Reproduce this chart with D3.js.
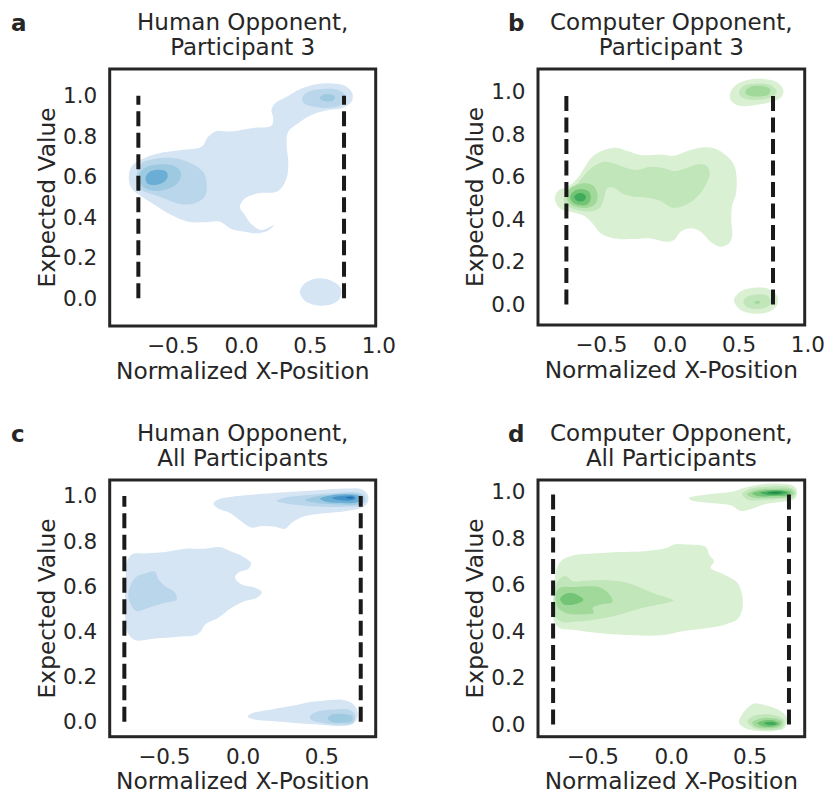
<!DOCTYPE html>
<html>
<head>
<meta charset="utf-8">
<script src="https://cdn.jsdelivr.net/npm/d3@7"></script>
<style>
  html, body { margin: 0; padding: 0; background: #ffffff; }
  svg { display: block; }
  text { font-family: "DejaVu Sans", sans-serif; fill: #262626; }
</style>
</head>
<body>
<svg id="chart" width="824" height="793"></svg>
<script>
// ---------------- DATA ----------------
const xTicksTop = [-0.5, 0.0, 0.5, 1.0];
const xTicksBottom = [-0.5, 0.0, 0.5];
const yTicks = [0.0, 0.2, 0.4, 0.6, 0.8, 1.0];

const boundaryX = [-0.75, 0.75];   // dashed reference lines
const boundaryY = [0, 1];

const domainA = { x: [-0.959, 0.981], y: [-0.137, 1.132] };
const domainB = { x: [-0.956, 0.980], y: [-0.097, 1.107] };
const domainC = { x: [-0.843, 0.845], y: [-0.066, 1.071] };
const domainD = { x: [-0.846, 0.850], y: [-0.052, 1.052] };

const titleA = ["Human Opponent,", "Participant 3"];
const titleB = ["Computer Opponent,", "Participant 3"];
const titleC = ["Human Opponent,", "All Participants"];
const titleD = ["Computer Opponent,", "All Participants"];

const blues  = ["#d5e5f4", "#bad6eb", "#9ecae1", "#6aaed6", "#4292c6", "#2171b5"];
const greens = ["#d9f0d3", "#c0e6b9", "#a1d99b", "#74c476", "#41ab5d", "#238b45"];

// KDE contour regions (level index, outline in data coordinates)
const contoursA = [
  { level: 0, pts: [[-0.820,0.595],[-0.800,0.650],[-0.727,0.686],[-0.606,0.715],[-0.436,0.732],[-0.290,0.748],[-0.241,0.798],[-0.180,0.826],[-0.083,0.823],[0.002,0.831],[0.100,0.842],[0.221,0.852],[0.234,0.888],[0.221,0.929],[0.246,0.962],[0.331,0.995],[0.440,1.036],[0.538,1.056],[0.659,1.061],[0.757,1.049],[0.810,1.012],[0.805,0.970],[0.745,0.941],[0.635,0.929],[0.513,0.905],[0.416,0.864],[0.343,0.822],[0.331,0.757],[0.343,0.674],[0.331,0.592],[0.270,0.530],[0.124,0.518],[0.027,0.493],[-0.010,0.452],[0.027,0.411],[0.075,0.365],[0.148,0.337],[0.241,0.362],[0.197,0.334],[0.124,0.321],[0.027,0.329],[-0.071,0.342],[-0.156,0.378],[-0.265,0.375],[-0.387,0.378],[-0.509,0.411],[-0.630,0.461],[-0.727,0.502],[-0.800,0.543]] },
  { level: 0, pts: [[0.428,0.033],[0.465,0.074],[0.562,0.099],[0.659,0.086],[0.727,0.049],[0.720,0.000],[0.659,-0.030],[0.562,-0.036],[0.465,-0.013]] },
  { level: 1, pts: [[-0.764,0.609],[-0.727,0.666],[-0.630,0.688],[-0.484,0.691],[-0.363,0.666],[-0.277,0.625],[-0.253,0.576],[-0.265,0.502],[-0.338,0.469],[-0.436,0.464],[-0.533,0.485],[-0.630,0.510],[-0.727,0.535],[-0.764,0.567]] },
  { level: 1, pts: [[0.445,0.987],[0.477,1.015],[0.586,1.033],[0.708,1.028],[0.762,1.000],[0.745,0.962],[0.659,0.941],[0.538,0.946],[0.460,0.962]] },
  { level: 2, pts: [[-0.752,0.600],[-0.703,0.645],[-0.606,0.661],[-0.496,0.655],[-0.440,0.622],[-0.455,0.576],[-0.521,0.543],[-0.630,0.530],[-0.715,0.551]] },
  { level: 2, pts: [[0.572,0.990],[0.599,1.005],[0.647,1.007],[0.684,0.995],[0.672,0.977],[0.623,0.972],[0.586,0.979]] },
  { level: 3, pts: [[-0.698,0.595],[-0.667,0.625],[-0.594,0.635],[-0.545,0.625],[-0.538,0.595],[-0.569,0.572],[-0.630,0.559],[-0.684,0.567]] }
];

const contoursB = [
  { level: 0, pts: [[-0.835,0.498],[-0.803,0.538],[-0.743,0.553],[-0.670,0.593],[-0.622,0.640],[-0.561,0.695],[-0.477,0.726],[-0.392,0.737],[-0.307,0.721],[-0.211,0.702],[-0.066,0.705],[0.031,0.699],[0.128,0.721],[0.225,0.737],[0.321,0.734],[0.406,0.702],[0.467,0.655],[0.486,0.593],[0.479,0.514],[0.454,0.467],[0.447,0.389],[0.454,0.326],[0.430,0.286],[0.370,0.271],[0.297,0.295],[0.225,0.342],[0.152,0.358],[0.080,0.342],[0.031,0.303],[-0.029,0.295],[-0.138,0.310],[-0.259,0.307],[-0.404,0.310],[-0.501,0.334],[-0.561,0.381],[-0.622,0.417],[-0.707,0.433],[-0.791,0.448]] },
  { level: 0, pts: [[0.438,0.993],[0.479,1.031],[0.563,1.055],[0.684,1.060],[0.781,1.044],[0.825,1.008],[0.806,0.972],[0.721,0.950],[0.612,0.937],[0.503,0.934],[0.447,0.956]] },
  { level: 0, pts: [[0.467,0.020],[0.515,0.060],[0.612,0.078],[0.709,0.075],[0.776,0.044],[0.781,-0.003],[0.721,-0.035],[0.612,-0.044],[0.515,-0.027]] },
  { level: 1, pts: [[-0.767,0.506],[-0.743,0.538],[-0.670,0.569],[-0.598,0.624],[-0.537,0.655],[-0.477,0.671],[-0.404,0.663],[-0.307,0.640],[-0.235,0.632],[-0.138,0.647],[-0.041,0.640],[0.031,0.627],[0.104,0.637],[0.200,0.658],[0.261,0.655],[0.290,0.624],[0.273,0.577],[0.200,0.506],[0.104,0.464],[0.019,0.455],[-0.066,0.486],[-0.162,0.502],[-0.259,0.506],[-0.344,0.522],[-0.404,0.549],[-0.453,0.546],[-0.477,0.498],[-0.501,0.459],[-0.549,0.440],[-0.646,0.440],[-0.719,0.454],[-0.762,0.475]] },
  { level: 1, pts: [[0.503,1.000],[0.539,1.028],[0.636,1.039],[0.733,1.031],[0.777,1.003],[0.745,0.976],[0.660,0.963],[0.563,0.965],[0.515,0.979]] },
  { level: 1, pts: [[0.534,0.012],[0.563,0.036],[0.636,0.047],[0.709,0.041],[0.737,0.012],[0.709,-0.011],[0.636,-0.022],[0.563,-0.014]] },
  { level: 2, pts: [[-0.747,0.522],[-0.706,0.553],[-0.634,0.569],[-0.561,0.561],[-0.525,0.522],[-0.537,0.475],[-0.598,0.455],[-0.682,0.459],[-0.735,0.483]] },
  { level: 2, pts: [[0.551,1.003],[0.587,1.024],[0.672,1.027],[0.728,1.013],[0.721,0.988],[0.660,0.978],[0.587,0.980],[0.556,0.989]] },
  { level: 2, pts: [[0.612,0.009],[0.636,0.017],[0.660,0.009],[0.636,0.003]] },
  { level: 3, pts: [[-0.723,0.506],[-0.694,0.533],[-0.634,0.542],[-0.585,0.530],[-0.573,0.498],[-0.598,0.470],[-0.658,0.467],[-0.706,0.480]] },
  { level: 4, pts: [[-0.694,0.505],[-0.665,0.522],[-0.626,0.520],[-0.607,0.505],[-0.626,0.486],[-0.670,0.486]] }
];

const contoursC = [
  { level: 0, pts: [[-0.185,0.967],[-0.153,0.985],[-0.069,0.997],[0.079,1.007],[0.291,1.018],[0.502,1.027],[0.650,1.033],[0.756,1.030],[0.794,1.007],[0.794,0.970],[0.756,0.948],[0.650,0.933],[0.502,0.923],[0.397,0.911],[0.312,0.882],[0.270,0.855],[0.206,0.864],[0.122,0.867],[0.058,0.860],[-0.026,0.897],[-0.090,0.929],[-0.153,0.944]] },
  { level: 0, pts: [[-0.735,0.705],[-0.703,0.741],[-0.619,0.746],[-0.492,0.752],[-0.365,0.767],[-0.238,0.767],[-0.143,0.774],[-0.079,0.756],[-0.005,0.734],[0.054,0.702],[0.037,0.678],[-0.026,0.661],[-0.048,0.639],[-0.005,0.608],[0.079,0.594],[0.122,0.575],[0.090,0.549],[0.016,0.535],[-0.069,0.505],[-0.153,0.461],[-0.238,0.431],[-0.263,0.402],[-0.301,0.383],[-0.407,0.377],[-0.555,0.369],[-0.682,0.362],[-0.729,0.394],[-0.746,0.498],[-0.741,0.616]] },
  { level: 0, pts: [[0.033,0.025],[0.069,0.040],[0.185,0.055],[0.333,0.073],[0.418,0.087],[0.502,0.092],[0.650,0.096],[0.714,0.070],[0.731,0.025],[0.703,-0.007],[0.629,-0.019],[0.481,-0.012],[0.312,-0.004],[0.185,0.003],[0.058,0.013]] },
  { level: 1, pts: [[0.217,0.978],[0.270,0.993],[0.397,1.003],[0.566,1.012],[0.693,1.018],[0.767,1.007],[0.781,0.978],[0.746,0.958],[0.650,0.952],[0.502,0.952],[0.375,0.958],[0.270,0.968]] },
  { level: 1, pts: [[-0.720,0.586],[-0.682,0.638],[-0.619,0.657],[-0.555,0.665],[-0.534,0.631],[-0.492,0.601],[-0.428,0.572],[-0.418,0.542],[-0.492,0.527],[-0.597,0.505],[-0.672,0.490],[-0.703,0.512],[-0.724,0.549]] },
  { level: 1, pts: [[0.428,0.025],[0.481,0.047],[0.587,0.055],[0.682,0.052],[0.714,0.028],[0.703,-0.004],[0.608,-0.012],[0.502,-0.004],[0.439,0.008]] },
  { level: 2, pts: [[0.397,0.982],[0.460,0.997],[0.587,1.007],[0.703,1.011],[0.760,1.000],[0.767,0.978],[0.724,0.963],[0.608,0.963],[0.481,0.968]] },
  { level: 2, pts: [[0.540,0.013],[0.566,0.031],[0.640,0.035],[0.697,0.025],[0.693,0.003],[0.629,-0.004],[0.566,-0.001]] },
  { level: 3, pts: [[0.492,0.988],[0.566,1.003],[0.672,1.007],[0.739,1.000],[0.752,0.982],[0.714,0.970],[0.608,0.970],[0.523,0.976]] },
  { level: 4, pts: [[0.566,0.991],[0.629,1.000],[0.703,1.000],[0.718,0.989],[0.693,0.981],[0.619,0.981]] },
  { level: 5, pts: [[0.655,0.994],[0.693,0.997],[0.709,0.991],[0.682,0.988]] }
];

const contoursD = [
  { level: 0, pts: [[-0.744,0.553],[-0.733,0.653],[-0.701,0.703],[-0.617,0.728],[-0.490,0.736],[-0.341,0.742],[-0.172,0.746],[-0.023,0.761],[0.019,0.775],[0.104,0.775],[0.220,0.765],[0.242,0.732],[0.273,0.703],[0.252,0.675],[0.337,0.646],[0.422,0.610],[0.453,0.553],[0.453,0.496],[0.422,0.453],[0.348,0.431],[0.252,0.417],[0.083,0.403],[-0.066,0.384],[-0.235,0.384],[-0.447,0.393],[-0.617,0.407],[-0.712,0.417],[-0.748,0.453]] },
  { level: 0, pts: [[0.114,0.975],[0.231,0.990],[0.379,1.000],[0.464,1.018],[0.570,1.033],[0.697,1.036],[0.782,1.026],[0.803,0.997],[0.782,0.969],[0.697,0.957],[0.591,0.947],[0.506,0.926],[0.443,0.919],[0.379,0.943],[0.231,0.954],[0.125,0.966]] },
  { level: 0, pts: [[0.432,0.009],[0.453,0.045],[0.496,0.078],[0.528,0.091],[0.612,0.081],[0.697,0.059],[0.735,0.030],[0.723,-0.013],[0.655,-0.027],[0.549,-0.027],[0.464,-0.013]] },
  { level: 1, pts: [[-0.740,0.582],[-0.712,0.625],[-0.670,0.639],[-0.627,0.617],[-0.532,0.620],[-0.426,0.622],[-0.299,0.613],[-0.193,0.589],[-0.108,0.564],[-0.023,0.546],[0.015,0.534],[-0.045,0.521],[-0.150,0.507],[-0.256,0.488],[-0.362,0.467],[-0.468,0.453],[-0.595,0.443],[-0.691,0.441],[-0.740,0.467]] },
  { level: 1, pts: [[0.453,0.990],[0.506,1.014],[0.612,1.023],[0.740,1.023],[0.793,1.004],[0.782,0.980],[0.697,0.971],[0.591,0.966],[0.496,0.966]] },
  { level: 1, pts: [[0.485,0.012],[0.517,0.035],[0.591,0.045],[0.676,0.037],[0.723,0.016],[0.708,-0.013],[0.634,-0.023],[0.538,-0.017]] },
  { level: 2, pts: [[-0.733,0.560],[-0.706,0.589],[-0.617,0.592],[-0.447,0.589],[-0.384,0.553],[-0.373,0.527],[-0.447,0.517],[-0.500,0.503],[-0.490,0.481],[-0.574,0.474],[-0.659,0.478],[-0.718,0.503]] },
  { level: 2, pts: [[0.485,0.990],[0.538,1.009],[0.655,1.014],[0.761,1.011],[0.782,0.994],[0.750,0.980],[0.634,0.976],[0.528,0.976]] },
  { level: 2, pts: [[0.517,0.009],[0.570,0.026],[0.655,0.027],[0.708,0.012],[0.693,-0.008],[0.612,-0.016],[0.538,-0.008]] },
  { level: 3, pts: [[-0.706,0.539],[-0.680,0.560],[-0.617,0.564],[-0.557,0.536],[-0.617,0.517],[-0.680,0.517]] },
  { level: 3, pts: [[0.517,0.994],[0.591,1.007],[0.697,1.008],[0.761,1.000],[0.750,0.987],[0.655,0.983],[0.549,0.983]] },
  { level: 3, pts: [[0.549,0.006],[0.602,0.019],[0.665,0.016],[0.693,0.004],[0.655,-0.008],[0.591,-0.008]] },
  { level: 4, pts: [[0.570,0.997],[0.634,1.004],[0.718,1.004],[0.744,0.997],[0.708,0.990],[0.612,0.988]] },
  { level: 4, pts: [[0.591,0.006],[0.638,0.012],[0.672,0.004],[0.634,-0.003]] },
  { level: 5, pts: [[0.612,0.997],[0.665,1.001],[0.708,0.997],[0.665,0.993]] }
];

// ---------------- LAYOUT ----------------
const panels = [
  { letter: "a", box: [109.7, 69, 375.7, 326],   dom: domainA, xTicks: xTicksTop,    title: titleA, contours: contoursA, colors: blues,  letterX: 11 },
  { letter: "b", box: [538, 69, 804.7, 325],     dom: domainB, xTicks: xTicksTop,    title: titleB, contours: contoursB, colors: greens, letterX: 508 },
  { letter: "c", box: [109.7, 480, 375.7, 736.7], dom: domainC, xTicks: xTicksBottom, title: titleC, contours: contoursC, colors: blues,  letterX: 11 },
  { letter: "d", box: [538, 480, 804.7, 736.7],  dom: domainD, xTicks: xTicksBottom, title: titleD, contours: contoursD, colors: greens, letterX: 508 }
];

const TICK_FS = 21.5, LABEL_FS = 23.3, TITLE_FS = 23;

const svg = d3.select("#chart");
svg.append("rect").attr("width", 824).attr("height", 793).attr("fill", "#ffffff");
const defs = svg.append("defs");
const fmt = d3.format(".1f");

panels.forEach((p, i) => {
  const [x0, y0, x1, y1] = p.box;
  const x = d3.scaleLinear().domain(p.dom.x).range([x0, x1]);
  const y = d3.scaleLinear().domain(p.dom.y).range([y1, y0]);
  const g = svg.append("g");

  const clipId = "clip" + i;
  defs.append("clipPath").attr("id", clipId)
    .append("rect").attr("x", x0).attr("y", y0).attr("width", x1 - x0).attr("height", y1 - y0);

  const line = d3.line()
    .x(d => x(d[0])).y(d => y(d[1]))
    .curve(d3.curveCatmullRomClosed.alpha(0.5));

  const sorted = p.contours.slice().sort((a, b) => a.level - b.level);
  g.append("g").attr("clip-path", `url(#${clipId})`)
    .selectAll("path").data(sorted).join("path")
    .attr("d", d => line(d.pts))
    .attr("fill", d => p.colors[d.level])
    .attr("stroke", "none");

  // dashed boundaries
  g.append("g").selectAll("path").data(boundaryX).join("path")
    .attr("d", bx => d3.line()([[x(bx), y(boundaryY[0])], [x(bx), y(boundaryY[1])]]))
    .attr("stroke", "#1a1a1a").attr("stroke-width", 4)
    .attr("stroke-dasharray", "15,6.5").attr("fill", "none");

  // axes
  const xa = g.append("g").attr("transform", `translate(0,${y1})`)
    .call(d3.axisBottom(x).tickValues(p.xTicks).tickSize(0).tickPadding(11.8).tickFormat(fmt));
  const ya = g.append("g").attr("transform", `translate(${x0},0)`)
    .call(d3.axisLeft(y).tickValues(yTicks).tickSize(0).tickPadding(12.5).tickFormat(fmt));
  [xa, ya].forEach(a => {
    a.select(".domain").remove();
    a.selectAll("text").attr("font-size", TICK_FS).attr("font-family", "DejaVu Sans").attr("fill", "#262626");
  });

  // frame
  g.append("rect").attr("x", x0).attr("y", y0).attr("width", x1 - x0).attr("height", y1 - y0)
    .attr("fill", "none").attr("stroke", "#262626").attr("stroke-width", 3);

  const cx = (x0 + x1) / 2, cy = (y0 + y1) / 2;
  // x label
  g.append("text").attr("x", cx).attr("y", y1 + 52.5).attr("text-anchor", "middle")
    .attr("font-size", LABEL_FS).text("Normalized X-Position");
  // y label
  g.append("text").attr("transform", `translate(${x0 - 55},${cy}) rotate(-90)`)
    .attr("text-anchor", "middle").attr("font-size", LABEL_FS).text("Expected Value");
  // title
  p.title.forEach((t, k) => {
    g.append("text").attr("x", cx).attr("y", y0 - 39.5 + k * 25.5)
      .attr("text-anchor", "middle").attr("font-size", TITLE_FS).text(t);
  });
  // panel letter
  g.append("text").attr("x", p.letterX).attr("y", y0 - 38.5)
    .attr("font-size", TITLE_FS).attr("font-weight", "bold").text(p.letter);
});
</script>
</body>
</html>
